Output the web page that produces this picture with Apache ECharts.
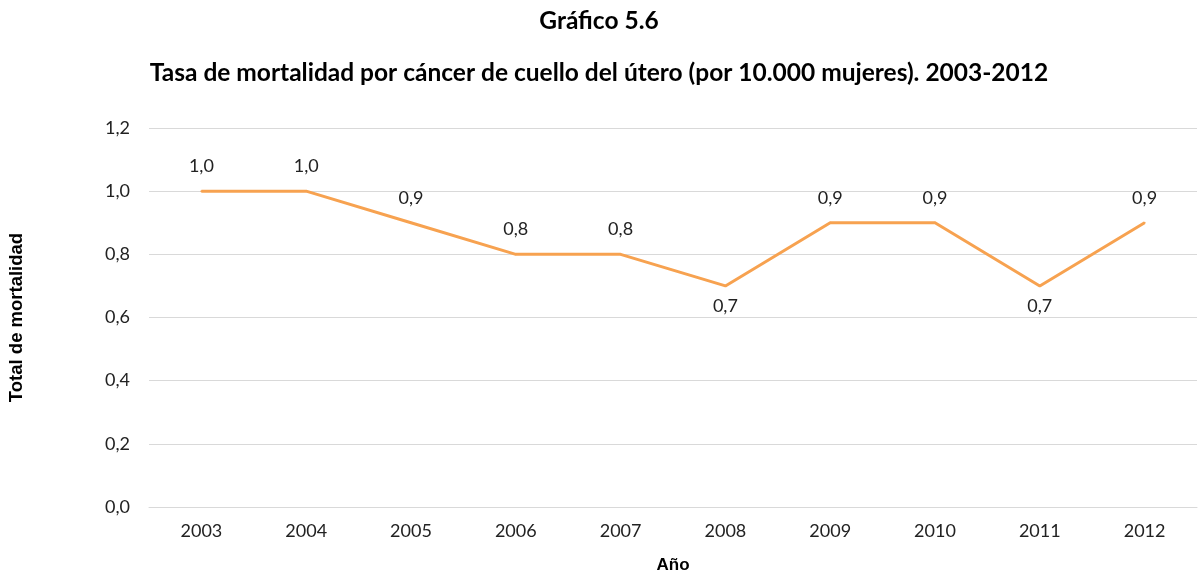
<!DOCTYPE html>
<html>
<head>
<meta charset="utf-8">
<script src="https://cdn.jsdelivr.net/npm/echarts@6/dist/echarts.min.js"></script>
<style>
  html, body { margin: 0; padding: 0; background: #ffffff; overflow: hidden; }
  #chart { width: 1198px; height: 576px; }
</style>
</head>
<body>
<div id="chart"></div>
<script>
// Cervical cancer mortality rate per 10,000 women, 2003-2012
const years = ['2003', '2004', '2005', '2006', '2007', '2008', '2009', '2010', '2011', '2012'];
const rates = [1.0, 1.0, 0.9, 0.8, 0.8, 0.7, 0.9, 0.9, 0.7, 0.9];
const labelsBelow = ['2008', '2011'];

const FONT = 'Lato, "Open Sans", sans-serif';
const AXIS_NAME_FONT = '"Liberation Sans", Arial, sans-serif';
const LINE_COLOR = '#F7A250';
const fmt = v => v.toFixed(1).replace('.', ',');

const seriesData = rates.map((v, i) => (
  labelsBelow.includes(years[i])
    ? { value: v, label: { position: 'bottom', distance: 10 } }
    : { value: v }
));

const chart = echarts.init(document.getElementById('chart'));
chart.setOption({
  backgroundColor: '#ffffff',
  animation: false,
  title: [
    {
      text: 'Gráfico 5.6',
      left: 'center',
      top: 4,
      textStyle: { fontFamily: FONT, fontSize: 24.5, fontWeight: 'bold', color: '#000' }
    },
    {
      text: 'Tasa de mortalidad por cáncer de cuello del útero (por 10.000 mujeres). 2003-2012',
      left: 'center',
      top: 56,
      textStyle: { fontFamily: FONT, fontSize: 24.5, fontWeight: 'bold', color: '#000' }
    }
  ],
  grid: { left: 149, right: 1, top: 128, bottom: 69, containLabel: false, outerBoundsMode: 'none' },
  xAxis: {
    type: 'category',
    data: years,
    boundaryGap: true,
    name: 'Año',
    nameLocation: 'middle',
    nameGap: 50,
    nameTextStyle: { fontFamily: AXIS_NAME_FONT, fontSize: 17, fontWeight: 'bold', color: '#000' },
    axisLine: { show: true, lineStyle: { color: '#d9d9d9', width: 1 } },
    axisTick: { show: false },
    axisLabel: { fontFamily: FONT, fontSize: 18, color: '#222', margin: 15 }
  },
  yAxis: {
    type: 'value',
    min: 0,
    max: 1.2,
    interval: 0.2,
    name: 'Total de mortalidad',
    nameLocation: 'middle',
    nameGap: 123,
    nameTextStyle: { fontFamily: AXIS_NAME_FONT, fontSize: 18.5, fontWeight: 'bold', color: '#000' },
    axisLine: { show: false },
    axisTick: { show: false },
    splitLine: { lineStyle: { color: '#d9d9d9', width: 1 } },
    axisLabel: { fontFamily: FONT, fontSize: 18, color: '#222', margin: 19, formatter: v => fmt(v) }
  },
  series: [{
    type: 'line',
    data: seriesData,
    symbol: 'circle',
    symbolSize: 2,
    showSymbol: true,
    showAllSymbol: true,
    lineStyle: { color: LINE_COLOR, width: 3 },
    itemStyle: { color: LINE_COLOR, borderWidth: 0 },
    label: {
      show: true,
      position: 'top',
      distance: 15,
      fontFamily: FONT,
      fontSize: 18,
      color: '#222',
      formatter: p => fmt(p.value)
    },
    labelLayout: { hideOverlap: false }
  }]
});
</script>
</body>
</html>
